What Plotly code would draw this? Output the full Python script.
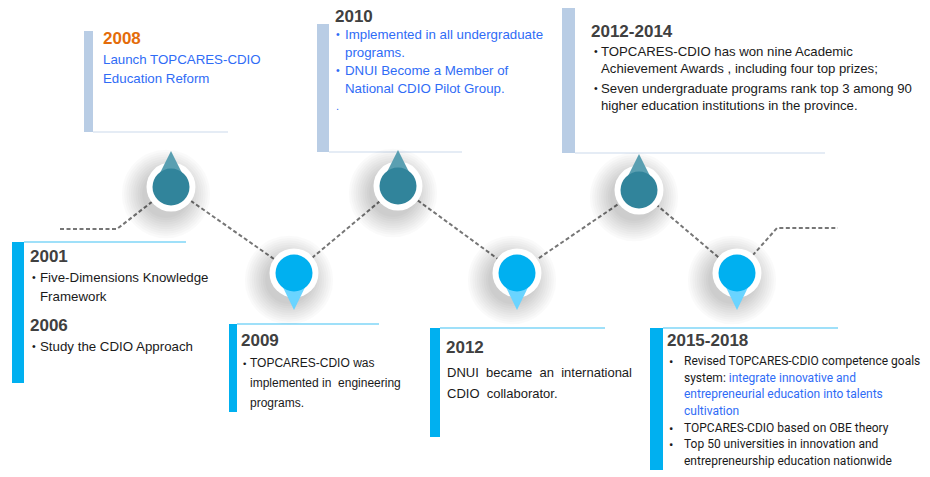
import plotly.graph_objects as go

# ----------------------------- data -----------------------------
milestone_years = ["2008", "2009", "2010", "2012", "2012-2014", "2015-2018"]
milestone_rows = ["upper", "lower", "upper", "lower", "upper", "lower"]

title_2001 = "2001"
items_2001 = [["Five-Dimensions Knowledge", "Framework"]]
title_2006 = "2006"
items_2006 = [["Study the CDIO Approach"]]
title_2008 = "2008"
lines_2008 = ["Launch TOPCARES-CDIO", "Education Reform"]
title_2009 = "2009"
items_2009 = [["TOPCARES-CDIO was", "implemented in\u00a0 engineering", "programs."]]
title_2010 = "2010"
items_2010 = [["Implemented in all undergraduate", "programs."],
              ["DNUI Become a Member of", "National CDIO Pilot Group."]]
title_2012 = "2012"
lines_2012 = ["DNUI\u00a0 became\u00a0 an\u00a0 international", "CDIO\u00a0 collaborator."]
title_2012_2014 = "2012-2014"
items_2012_2014 = [["TOPCARES-CDIO has won nine Academic",
                    "Achievement Awards , including four top prizes;"],
                   ["Seven undergraduate programs rank top 3 among 90",
                    "higher education institutions in the province."]]
title_2015_2018 = "2015-2018"
items_2015_2018 = [["Revised TOPCARES-CDIO competence goals",
                    "system: <span style='color:#2F6CF6'>integrate innovative and</span>",
                    "<span style='color:#2F6CF6'>entrepreneurial education into talents</span>",
                    "<span style='color:#2F6CF6'>cultivation</span>"],
                   ["TOPCARES-CDIO based on OBE theory"],
                   ["Top 50 universities in innovation and",
                    "entrepreneurship education nationwide"]]

# ----------------------------- layout constants -----------------------------
W, H = 930, 477
PAGE_OFFSET = 8  # the page places the figure 8px from its top-left corner
marker_cx = [171, 294, 398, 517, 639, 737]
marker_cy = [187, 273, 186, 273, 190, 273]
lead_in = ([60, 117], [229, 229])
lead_out = ([777, 838], [228, 228])

SANS = "Liberation Sans"
HUMANIST = "Roboto"
DARK = "#404040"
BLACK = "#1A1A1A"
BLUE = "#2F6CF6"
ORANGE = "#E46C0A"
TEAL = "#31849B"
TEAL_DROP = "#5A9FB1"
SKY = "#00B0F0"
SKY_DROP = "#6AD4FF"
PALE_BAR = "#B9CDE5"
PALE_LINE = "#DCE6F2"
SKY_LINE = "#7FD6F7"

fig = go.Figure()

# dashed zig-zag path
path_x = lead_in[0] + marker_cx + lead_out[0]
path_y = lead_in[1] + marker_cy + lead_out[1]
fig.add_trace(go.Scatter(x=path_x, y=path_y, mode="lines",
                         line=dict(color="#767676", width=2, dash="4px,2.5px"),
                         hoverinfo="skip", showlegend=False))

# soft shadows (offset down-left)
for k in range(10):
    size = 48 + k * 4.5
    fig.add_trace(go.Scatter(
        x=[c - 5 for c in marker_cx], y=[c + 7 for c in marker_cy], mode="markers",
        marker=dict(size=size, color="rgba(0,0,0,0.019)", line=dict(width=0)),
        hoverinfo="skip", showlegend=False))

# white rings
fig.add_trace(go.Scatter(x=marker_cx, y=marker_cy, mode="markers",
                         marker=dict(size=49, color="white", line=dict(width=0)),
                         hoverinfo="skip", showlegend=False))

# drop tips
for cx, cy, row in zip(marker_cx, marker_cy, milestone_rows):
    if row == "upper":
        tip, base, col = cy - 36, cy - 2, TEAL_DROP
    else:
        tip, base, col = cy + 37, cy + 2, SKY_DROP
    fig.add_trace(go.Scatter(x=[cx, cx - 17, cx + 17, cx], y=[tip, base, base, tip],
                             mode="lines", fill="toself", fillcolor=col,
                             line=dict(width=0, color=col),
                             hoverinfo="skip", showlegend=False))

# inner discs
fig.add_trace(go.Scatter(
    x=marker_cx, y=marker_cy, mode="markers",
    marker=dict(size=37, color=[TEAL if r == "upper" else SKY for r in milestone_rows],
                line=dict(width=0)),
    text=milestone_years, hoverinfo="text", showlegend=False))

# ----------------------------- boxes -----------------------------
shapes = []
def upper_box(x0, x1, y0, y1, xend):
    shapes.append(dict(type="rect", x0=x0, x1=x1, y0=y0, y1=y1, fillcolor=PALE_BAR,
                       line=dict(width=0), layer="below"))
    shapes.append(dict(type="line", x0=x1, x1=xend, y0=y1, y1=y1,
                       line=dict(color=PALE_LINE, width=1.5), layer="below"))

def lower_box(x0, x1, y0, y1, xend):
    shapes.append(dict(type="rect", x0=x0, x1=x1, y0=y0, y1=y1, fillcolor=SKY,
                       line=dict(width=0), layer="below"))
    shapes.append(dict(type="line", x0=x1, x1=xend, y0=y0, y1=y0,
                       line=dict(color=SKY_LINE, width=1.5), layer="below"))

upper_box(84, 93, 31, 132, 228)
upper_box(317, 329, 24, 152, 462)
upper_box(562, 575, 6, 153, 825)
lower_box(12, 24, 242, 383, 186)
lower_box(229, 237, 324, 412, 379)
lower_box(430, 440, 328, 437, 605)
lower_box(650, 663, 328, 470, 838)

# ----------------------------- text -----------------------------
ann = []
def txt(x, y, s, color=BLACK, size=13.5, family=SANS, bold=False):
    ann.append(dict(x=x, y=y, xref="x", yref="y", text=f"<b>{s}</b>" if bold else s,
                    showarrow=False, xanchor="left", yanchor="middle",
                    font=dict(color=color, size=size, family=family), borderpad=0))

def heading(x, y, s, color=DARK):
    txt(x, y, s, color=color, size=17, bold=True)

def bullets(xb, xt, ys, items, color=BLACK, size=13.5, family=SANS, bullet_size=None):
    i = 0
    for item in items:
        for j, line in enumerate(item):
            if j == 0:
                txt(xb, ys[i], "•", color=color, size=bullet_size or size * 0.8,
                    family=family)
            txt(xt, ys[i], line, color=color, size=size, family=family)
            i += 1

# 2008
heading(102, 38, title_2008, ORANGE)
for y, s in zip([59, 78], lines_2008):
    txt(102, y, s, BLUE, size=13.3)

# 2010
heading(334, 16, title_2010)
bullets(335, 344, [34, 52, 70, 88], items_2010, BLUE, size=13.3)
txt(335, 106, ".", BLUE, size=11)

# 2012-2014
heading(590, 31, title_2012_2014)
bullets(593, 600, [51, 68, 88, 105], items_2012_2014, BLACK, size=13.2)

# 2001 / 2006
heading(29, 256, title_2001)
bullets(31, 39, [277, 296], items_2001, size=13.3)
heading(29, 325, title_2006)
bullets(31, 39, [346], items_2006, size=13.3)

# 2009
heading(240, 340, title_2009)
bullets(242, 249, [363, 383, 403], items_2009, size=12)

# 2012
heading(445, 347, title_2012)
for y, s in zip([372, 393], lines_2012):
    txt(446, y, s, BLACK, size=13)

# 2015-2018
heading(666, 340, title_2015_2018)
bullets(668, 683, [361, 378, 394, 411, 428, 444, 461], items_2015_2018,
        BLACK, size=12, family=HUMANIST, bullet_size=13)

fig.update_layout(
    width=W, height=H, margin=dict(l=0, r=0, t=0, b=0),
    paper_bgcolor="white", plot_bgcolor="white",
    xaxis=dict(range=[PAGE_OFFSET, W + PAGE_OFFSET], visible=False, fixedrange=True),
    yaxis=dict(range=[H + PAGE_OFFSET, PAGE_OFFSET], visible=False, fixedrange=True),
    shapes=shapes, annotations=ann, showlegend=False,
)
fig.write_html("out.html")
